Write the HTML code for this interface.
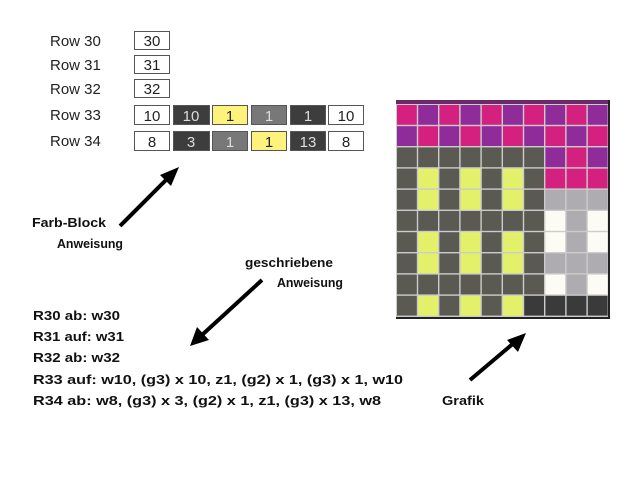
<!DOCTYPE html>
<html><head><meta charset="utf-8"><style>
html,body{margin:0;padding:0;background:#fff;}
svg{display:block}
.r{font-family:"Liberation Sans",sans-serif;font-size:15px;fill:#222}
.b{font-family:"Liberation Sans",sans-serif;font-size:15px;text-anchor:middle}
.c{font-family:"Liberation Sans",sans-serif;font-weight:bold;font-size:13px;fill:#111}
</style></head><body>
<svg width="640" height="480" viewBox="0 0 640 480">
<text class="r" x="50" y="46">Row 30</text>
<text class="r" x="50" y="70">Row 31</text>
<text class="r" x="50" y="94">Row 32</text>
<text class="r" x="50" y="120">Row 33</text>
<text class="r" x="50" y="146">Row 34</text>
<g stroke="#555" stroke-width="1">
<rect x="134.5" y="31.5" width="35" height="18" fill="#fff"/>
<rect x="134.5" y="55.5" width="35" height="18" fill="#fff"/>
<rect x="134.5" y="79.5" width="35" height="18" fill="#fff"/>
<rect x="134.5" y="105.5" width="35" height="19" fill="#fff"/>
<rect x="173.5" y="105.5" width="36" height="19" fill="#3d3d3d"/>
<rect x="212.5" y="105.5" width="35" height="19" fill="#fdf27c"/>
<rect x="251.5" y="105.5" width="35" height="19" fill="#787878"/>
<rect x="290.5" y="105.5" width="35" height="19" fill="#3d3d3d"/>
<rect x="328.5" y="105.5" width="35" height="19" fill="#fff"/>
<rect x="134.5" y="131.5" width="35" height="19" fill="#fff"/>
<rect x="173.5" y="131.5" width="36" height="19" fill="#3d3d3d"/>
<rect x="212.5" y="131.5" width="35" height="19" fill="#787878"/>
<rect x="251.5" y="131.5" width="35" height="19" fill="#fdf27c"/>
<rect x="290.5" y="131.5" width="35" height="19" fill="#3d3d3d"/>
<rect x="328.5" y="131.5" width="35" height="19" fill="#fff"/>
</g>
<text class="b" x="152" y="46" fill="#222">30</text>
<text class="b" x="152" y="70" fill="#222">31</text>
<text class="b" x="152" y="94" fill="#222">32</text>
<text class="b" x="152" y="121" fill="#222">10</text>
<text class="b" x="191" y="121" fill="#ddd">10</text>
<text class="b" x="230" y="121" fill="#222">1</text>
<text class="b" x="269" y="121" fill="#ddd">1</text>
<text class="b" x="308" y="121" fill="#ddd">1</text>
<text class="b" x="346" y="121" fill="#222">10</text>
<text class="b" x="152" y="147" fill="#222">8</text>
<text class="b" x="191" y="147" fill="#ddd">3</text>
<text class="b" x="230" y="147" fill="#ddd">1</text>
<text class="b" x="269" y="147" fill="#222">1</text>
<text class="b" x="308" y="147" fill="#ddd">13</text>
<text class="b" x="346" y="147" fill="#222">8</text>

<g id="grid"></g>

<g stroke="#000" stroke-width="4" fill="#000">
<line x1="120" y1="226" x2="168" y2="178"/>
<polygon points="179,167 160,175 171,186" stroke="none"/>
<line x1="262" y1="280" x2="202" y2="335"/>
<polygon points="190,346 197,327 209,340" stroke="none"/>
<line x1="470" y1="380" x2="515" y2="342"/>
<polygon points="526,333 507,340 518,352" stroke="none"/>
</g>

<g lengthAdjust="spacingAndGlyphs">
<text class="c" x="32" y="227" textLength="74" lengthAdjust="spacingAndGlyphs">Farb-Block</text>
<text class="c" x="57" y="248" textLength="66" lengthAdjust="spacingAndGlyphs">Anweisung</text>
<text class="c" x="245" y="267" textLength="88" lengthAdjust="spacingAndGlyphs">geschriebene</text>
<text class="c" x="277" y="287" textLength="66" lengthAdjust="spacingAndGlyphs">Anweisung</text>
<text class="c" x="442" y="405" textLength="42" lengthAdjust="spacingAndGlyphs">Grafik</text>
<text class="c" x="33" y="320" textLength="87" lengthAdjust="spacingAndGlyphs">R30 ab: w30</text>
<text class="c" x="33" y="341" textLength="91" lengthAdjust="spacingAndGlyphs">R31 auf: w31</text>
<text class="c" x="33" y="362" textLength="87" lengthAdjust="spacingAndGlyphs">R32 ab: w32</text>
<text class="c" x="33" y="384" textLength="370" lengthAdjust="spacingAndGlyphs">R33 auf: w10, (g3) x 10, z1, (g2) x 1, (g3) x 1, w10</text>
<text class="c" x="33" y="405" textLength="348" lengthAdjust="spacingAndGlyphs">R34 ab: w8, (g3) x 3, (g2) x 1, z1, (g3) x 13, w8</text>
</g>
</svg>
<script>
var rows=["MPMPMPMPMP","PMPMPMPMPM","GGGGGGGPMP","GYGYGYGMMM","GYGYGYGLLL","GGGGGGGWLW","GYGYGYGWLW","GYGYGYGLLL","GGGGGGGWLW","GYGYGYDDDD"];
var col={M:"#d4217f",P:"#8f2c9a",G:"#5a5a52",Y:"#e2f06a",L:"#aeacb0",W:"#fdfcf4",D:"#3a3a3a"};
var g=document.getElementById("grid"),s="";
s+='<rect x="396" y="100" width="212" height="5" fill="#6a2a6a"/>';
s+='<rect x="396" y="104" width="212" height="213" fill="#ccc"/>';
for(var r=0;r<10;r++)for(var c=0;c<10;c++){
s+='<rect x="'+(397+c*21.2)+'" y="'+(105+r*21.2)+'" width="19.8" height="19.8" fill="'+col[rows[r][c]]+'"/>';}
s+='<rect x="396" y="317" width="214" height="2" fill="#222"/><rect x="608" y="100" width="2" height="219" fill="#222"/>';
g.innerHTML=s;
</script>
</body></html>
